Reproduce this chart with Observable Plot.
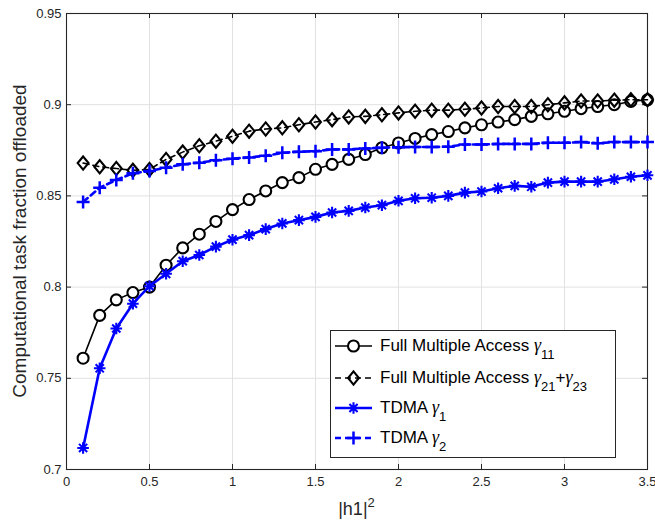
<!DOCTYPE html>
<html><head><meta charset="utf-8">
<script src="https://cdn.jsdelivr.net/npm/d3@7"></script>
<script src="https://cdn.jsdelivr.net/npm/@observablehq/plot@0.6"></script>
<style>
body{margin:0;background:#fff;}
#wrap{position:relative;width:655px;height:523px;font-family:"Liberation Sans",Arial,sans-serif;}
</style></head><body><div id="wrap"></div>
<script>
// ---- data ----
const h1sq = [0.1,0.2,0.3,0.4,0.5,0.6,0.7,0.8,0.9,1.0,1.1,1.2,1.3,1.4,1.5,1.6,1.7,1.8,1.9,2.0,2.1,2.2,2.3,2.4,2.5,2.6,2.7,2.8,2.9,3.0,3.1,3.2,3.3,3.4,3.5];
const fmaGamma11 = [0.761,0.7845,0.793,0.797,0.800,0.812,0.8215,0.829,0.836,0.8425,0.848,0.8527,0.8573,0.860,0.8646,0.8673,0.870,0.8727,0.8764,0.879,0.8815,0.8836,0.8853,0.8873,0.889,0.8905,0.8918,0.8936,0.895,0.8964,0.8978,0.899,0.900,0.9018,0.9027];
const fmaGamma21p23 = [0.868,0.866,0.865,0.864,0.8645,0.870,0.874,0.8775,0.880,0.8827,0.8855,0.8867,0.8873,0.889,0.8905,0.8918,0.8933,0.8936,0.8945,0.8955,0.8964,0.897,0.897,0.8975,0.8982,0.899,0.899,0.899,0.900,0.901,0.902,0.902,0.9025,0.9027,0.9027];
const tdmaGamma1 = [0.7118,0.7555,0.7773,0.7909,0.8005,0.8073,0.8142,0.8176,0.8222,0.826,0.8285,0.8318,0.8349,0.8367,0.8385,0.8409,0.8418,0.8436,0.8449,0.8473,0.8487,0.849,0.850,0.8518,0.8524,0.8542,0.8555,0.855,0.8573,0.8578,0.8578,0.8578,0.8591,0.8605,0.8613];
const tdmaGamma2 = [0.8467,0.8545,0.8587,0.8624,0.8636,0.8655,0.8673,0.8682,0.8695,0.8704,0.8711,0.872,0.8736,0.8742,0.8745,0.8755,0.8755,0.876,0.8764,0.8767,0.8768,0.8768,0.877,0.8782,0.8782,0.8785,0.8785,0.8785,0.8791,0.8791,0.8795,0.8789,0.8795,0.8795,0.8795];
const xTicks = [0,0.5,1,1.5,2,2.5,3,3.5];
const xTickLabels = ["0","0.5","1","1.5","2","2.5","3","3.5"];
const yTicks = [0.7,0.75,0.8,0.85,0.9,0.95];
const yTickLabels = ["0.7","0.75","0.8","0.85","0.9","0.95"];
const xLabel = ["|h1|", "2"];
const yLabel = "Computational task fraction offloaded";
// segments: [text, kind] kind 0 = normal, 1 = subscript, 2 = greek
const legendLabels = [
  [["Full Multiple Access ",0],["γ",2],["11",1]],
  [["Full Multiple Access ",0],["γ",2],["21",1],["+",0],["γ",2],["23",1]],
  [["TDMA ",0],["γ",2],["1",1]],
  [["TDMA ",0],["γ",2],["2",1]]
];

// ---- symbols (MATLAB-like markers) ----
const rad = s => Math.sqrt(s/Math.PI);
const circleSym = {draw(c,s){const r=rad(s);c.moveTo(r,0);c.arc(0,0,r,0,2*Math.PI);}};
const diamondSym = {draw(c,s){const r=rad(s),w=r*0.82;c.moveTo(0,-r);c.lineTo(w,0);c.lineTo(0,r);c.lineTo(-w,0);c.closePath();}};
const starSym = {draw(c,s){const r=rad(s),d=r*Math.SQRT1_2;c.moveTo(-r,0);c.lineTo(r,0);c.moveTo(0,-r);c.lineTo(0,r);c.moveTo(-d,-d);c.lineTo(d,d);c.moveTo(-d,d);c.lineTo(d,-d);}};
const plusSym = {draw(c,s){const r=rad(s);c.moveTo(-r,0);c.lineTo(r,0);c.moveTo(0,-r);c.lineTo(0,r);}};

const series = [
  {values: fmaGamma11, color:"#000000", lw:1.6, dash:null, sym:circleSym, r:5.5, fill:"white", sw:2.1},
  {values: fmaGamma21p23, color:"#000000", lw:1.6, dash:"6,4", sym:diamondSym, r:6.6, fill:"none", sw:2.1},
  {values: tdmaGamma1, color:"#0000ff", lw:2.6, dash:null, sym:starSym, r:5.8, fill:"none", sw:2.1},
  {values: tdmaGamma2, color:"#0000ff", lw:2.6, dash:"6,4", sym:plusSym, r:6.5, fill:"none", sw:2.5}
];

const W=655,H=523,ML=66,MR=8,MT=13,MB=54;
const PW=W-ML-MR, PH=H-MT-MB;
const ink="#262626";
const sans="'Liberation Sans', Arial, sans-serif";
const serif="'Liberation Serif', 'Times New Roman', serif";

const marks = [
  Plot.gridX({ticks:xTicks, stroke:"#e1e1e1", strokeOpacity:1}),
  Plot.gridY({ticks:yTicks, stroke:"#e1e1e1", strokeOpacity:1}),
  Plot.ruleX(xTicks,{x:d=>d, stroke:ink, insetTop:PH-5}),
  Plot.ruleX(xTicks,{x:d=>d, stroke:ink, insetBottom:PH-5}),
  Plot.ruleY(yTicks,{y:d=>d, stroke:ink, insetRight:PW-5}),
  Plot.ruleY(yTicks,{y:d=>d, stroke:ink, insetLeft:PW-5}),
  Plot.axisX({ticks:xTicks, tickSize:0, tickPadding:7, label:null, fontSize:13, fill:ink, tickFormat:d=>xTickLabels[xTicks.indexOf(d)]}),
  Plot.axisY({ticks:yTicks, tickSize:0, tickPadding:5, label:null, fontSize:13, fill:ink, tickFormat:d=>yTickLabels[yTicks.indexOf(d)]}),
  Plot.frame({stroke:ink, strokeWidth:1.1})
];
for (const s of series) {
  const data = h1sq.map((x,i)=>({x, y:s.values[i]}));
  marks.push(Plot.line(data,{x:"x",y:"y",stroke:s.color,strokeWidth:s.lw,strokeDasharray:s.dash}));
  marks.push(Plot.dot(data,{x:"x",y:"y",symbol:s.sym,r:s.r,stroke:s.color,fill:s.fill,strokeWidth:s.sw}));
}

const plot = Plot.plot({
  width:W, height:H, marginLeft:ML, marginRight:MR, marginTop:MT, marginBottom:MB,
  style:{fontFamily:sans, fontSize:"13px", color:ink, background:"white", overflow:"visible"},
  x:{domain:[0,3.5]},
  y:{domain:[0.7,0.95]},
  marks
});
document.getElementById("wrap").appendChild(plot);

// axis labels
const svg = d3.select(plot);
const xl = svg.append("text").attr("x", ML+PW/2).attr("y", 515).attr("text-anchor","middle")
  .attr("fill",ink).style("font-size","18px").style("font-family",sans);
xl.append("tspan").text(xLabel[0]);
xl.append("tspan").attr("dy",-8).style("font-size","13px").text(xLabel[1]);
svg.append("text").attr("transform",`translate(19,${MT+PH/2}) rotate(-90)`).attr("text-anchor","middle")
  .attr("dominant-baseline","central").attr("fill",ink).style("font-size","19px")
  .style("font-family",sans).text(yLabel);

// legend
const LX=330, LY=330, LW=285, LH=127;
const lg = d3.select("#wrap").append("svg").attr("width",LW+1).attr("height",LH+1)
  .style("position","absolute").style("left",LX+"px").style("top",LY+"px");
lg.append("rect").attr("x",0.5).attr("y",0.5).attr("width",LW).attr("height",LH).attr("fill","white").attr("stroke",ink);
const baselines=[21,53,83,113];
series.forEach((s,i)=>{
  const by=baselines[i], ly=by-5;
  lg.append("line").attr("x1",5).attr("x2",42).attr("y1",ly).attr("y2",ly).attr("stroke",s.color)
    .attr("stroke-width",s.lw).attr("stroke-dasharray",s.dash);
  lg.append("path").attr("transform",`translate(23.5,${ly})`)
    .attr("d", d3.symbol(s.sym, Math.PI*s.r*s.r)()).attr("stroke",s.color).attr("fill",s.fill).attr("stroke-width",s.sw);
  const t = lg.append("text").attr("x",50).attr("y",by).attr("fill","#000")
    .style("font-size","17px").style("font-family",sans);
  let prevSub=false;
  for (const [str,kind] of legendLabels[i]) {
    const sub = kind===1;
    const sp=t.append("tspan").text(str);
    if (sub!==prevSub) sp.attr("dy", sub?8:-8);
    if (sub) sp.style("font-size","13px");
    if (kind===2) sp.style("font-family",serif).style("font-style","italic").style("font-size","18px");
    prevSub=sub;
  }
});
</script></body></html>
